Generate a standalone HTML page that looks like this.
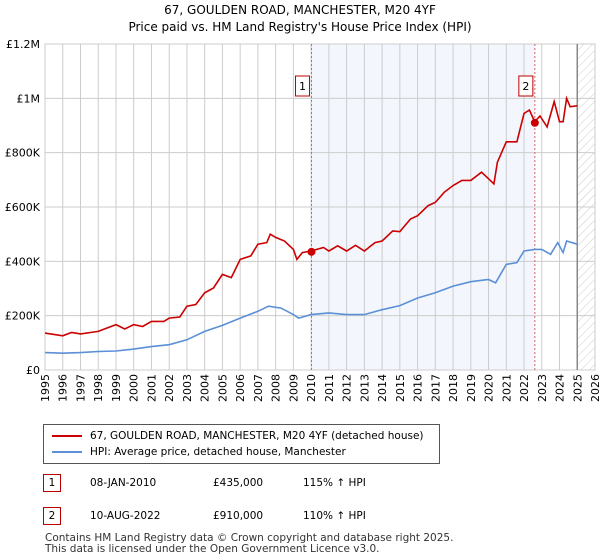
<!DOCTYPE html>
<html><head><meta charset="utf-8"><style>
body{margin:0;width:600px;height:560px;background:#fff;font-family:"DejaVu Sans","Liberation Sans",sans-serif;overflow:hidden;position:relative}
.t{position:absolute;color:#000}
</style></head><body>
<div class="t" style="left:0;width:600px;top:2px;text-align:center;font-size:12px;line-height:17px">67, GOULDEN ROAD, MANCHESTER, M20 4YF<br>Price paid vs. HM Land Registry's House Price Index (HPI)</div>
<svg id="c" width="600" height="420" style="position:absolute;left:0;top:0" font-family="DejaVu Sans, Liberation Sans, sans-serif" font-size="11"></svg>
<div style="position:absolute;left:43px;top:424px;width:397px;height:40px;border:1px solid #555;box-sizing:border-box;font-size:10.5px">
 <div style="position:absolute;left:8px;top:5px;white-space:nowrap"><span style="display:inline-block;width:30px;height:2px;background:#cc0000;vertical-align:middle;margin-right:8px"></span>67, GOULDEN ROAD, MANCHESTER, M20 4YF (detached house)</div>
 <div style="position:absolute;left:8px;top:21px;white-space:nowrap"><span style="display:inline-block;width:30px;height:2px;background:#5b8fd6;vertical-align:middle;margin-right:8px"></span>HPI: Average price, detached house, Manchester</div>
</div>
<div style="position:absolute;left:43px;top:474px;font-size:10.5px;width:400px;height:18px">
 <span style="position:absolute;left:0;top:0;width:16px;height:16px;border:1px solid #b00;text-align:center;line-height:16px">1</span>
 <span style="position:absolute;left:47px;top:3px">08-JAN-2010</span><span style="position:absolute;left:170px;top:3px">£435,000</span><span style="position:absolute;left:260px;top:3px">115% ↑ HPI</span></div>
<div style="position:absolute;left:43px;top:507px;font-size:10.5px;width:400px;height:18px">
 <span style="position:absolute;left:0;top:0;width:16px;height:16px;border:1px solid #b00;text-align:center;line-height:16px">2</span>
 <span style="position:absolute;left:47px;top:3px">10-AUG-2022</span><span style="position:absolute;left:170px;top:3px">£910,000</span><span style="position:absolute;left:260px;top:3px">110% ↑ HPI</span></div>
<div class="t" style="left:45px;top:533px;font-size:10.5px;line-height:11px;color:#333">Contains HM Land Registry data © Crown copyright and database right 2025.<br>This data is licensed under the Open Government Licence v3.0.</div>
<script>
const hpiYears=[1995,1996,1997,1998,1999,2000,2001,2002,2003,2004,2005,2006,2007,2007.6,2008.3,2009,2009.3,2010,2011,2012,2013,2014,2015,2016,2017,2018,2019,2020,2020.4,2021,2021.6,2022,2022.6,2023,2023.5,2023.9,2024.2,2024.4,2025];
const hpiValues=[64,62,64,68,70,77,86,93,111,142,164,191,216,235,228,204,191,204,210,204,204,222,237,265,284,309,325,333,321,389,395,438,444,444,426,469,432,475,463];
const priceYears=[1995,1996,1996.5,1997,1998,1999,1999.5,2000,2000.5,2001,2001.7,2002,2002.6,2003,2003.5,2004,2004.5,2005,2005.5,2006,2006.6,2007,2007.5,2007.7,2008,2008.5,2009,2009.2,2009.5,2010,2010.7,2011,2011.5,2012,2012.5,2013,2013.6,2014,2014.6,2015,2015.6,2016,2016.6,2017,2017.5,2018,2018.5,2019,2019.6,2020,2020.3,2020.5,2021,2021.6,2022,2022.3,2022.6,2022.9,2023.3,2023.7,2024,2024.2,2024.4,2024.6,2025];
const priceValues=[136,126,138,133,142,167,151,167,160,179,179,191,195,235,241,284,302,352,340,407,420,463,469,500,488,475,444,407,432,438,451,438,457,438,459,438,469,475,512,509,556,568,605,617,654,679,698,698,728,704,685,765,840,840,944,957,914,935,895,988,914,914,1000,969,973];
const saleYears=[2010.02,2022.61];
const saleValues=[435,910];
const yTicks=[0,200,400,600,800,1000,1200];
const yTickLabels=["£0","£200K","£400K","£600K","£800K","£1M","£1.2M"];
const xTicks=[1995,1996,1997,1998,1999,2000,2001,2002,2003,2004,2005,2006,2007,2008,2009,2010,2011,2012,2013,2014,2015,2016,2017,2018,2019,2020,2021,2022,2023,2024,2025,2026];
const L=45,R=595,T=44,B=370;
const X=y=>L+(y-1995)/(2026-1995)*(R-L);
const Y=v=>B-v/1200*(B-T);
const s=document.getElementById('c');const NS='http://www.w3.org/2000/svg';
function mk(t,a,p){const e=document.createElementNS(NS,t);for(const k in a)e.setAttribute(k,a[k]);(p||s).appendChild(e);return e;}
const d=mk('defs',{});const pat=mk('pattern',{id:'h',width:6,height:6,patternUnits:'userSpaceOnUse',patternTransform:'rotate(45)'},d);mk('line',{x1:0,y1:0,x2:0,y2:6,stroke:'#ccc','stroke-width':1},pat);
let r=mk('rect',{x:X(saleYears[0]),y:T,width:X(saleYears[1])-X(saleYears[0]),height:B-T,fill:'#eef3fc',opacity:0.7});

r=mk('rect',{x:X(2025),y:T,width:R-X(2025),height:B-T,fill:'url(#h)'});

yTicks.forEach((v,i)=>{const l=mk('line',{x1:L,x2:R,y1:Y(v),y2:Y(v),stroke:'#ccc'});
const t=mk('text',{x:L-5,y:Y(v)+4,'text-anchor':'end',fill:'#000'});t.textContent=yTickLabels[i];});
xTicks.forEach(y=>{const l=mk('line',{x1:X(y),x2:X(y),y1:T,y2:B,stroke:'#ccc'});
const t=mk('text',{x:0,y:0,'text-anchor':'end',fill:'#000',transform:'translate('+(X(y)+4)+','+(B+4)+') rotate(-90)'});t.textContent=y;});
mk('rect',{x:L,y:T,width:R-L,height:B-T,fill:'none',stroke:'#ccc'});
const ln=mk('line',{x1:X(2025),x2:X(2025),y1:T,y2:B,stroke:'#888','stroke-width':1.5});
saleYears.forEach((y,i)=>{const l=mk('line',{x1:X(y),x2:X(y),y1:T,y2:B,stroke:'#e06060','stroke-dasharray':'2,2'});
const g=mk('g',{});
mk('rect',{x:X(y)-16,y:76,width:14,height:20,fill:'#fff',stroke:'#b00'},g);const t=mk('text',{x:X(y)-9,y:90,'text-anchor':'middle',fill:'#000'},g);t.textContent=i+1;});
function path(xs,vs,c,n){const p=mk('path',{d:xs.map((y,i)=>(i?'L':'M')+X(y).toFixed(1)+','+Y(vs[i]).toFixed(1)).join(''),fill:'none',stroke:c,'stroke-width':1.6});}
path(hpiYears,hpiValues,'#5b8fd6','hpi-line');
path(priceYears,priceValues,'#cc0000','price-line');
saleYears.forEach((y,i)=>{const c=mk('circle',{cx:X(y),cy:Y(saleValues[i]),r:4,fill:'#cc0000'});});
</script>
</body></html>
